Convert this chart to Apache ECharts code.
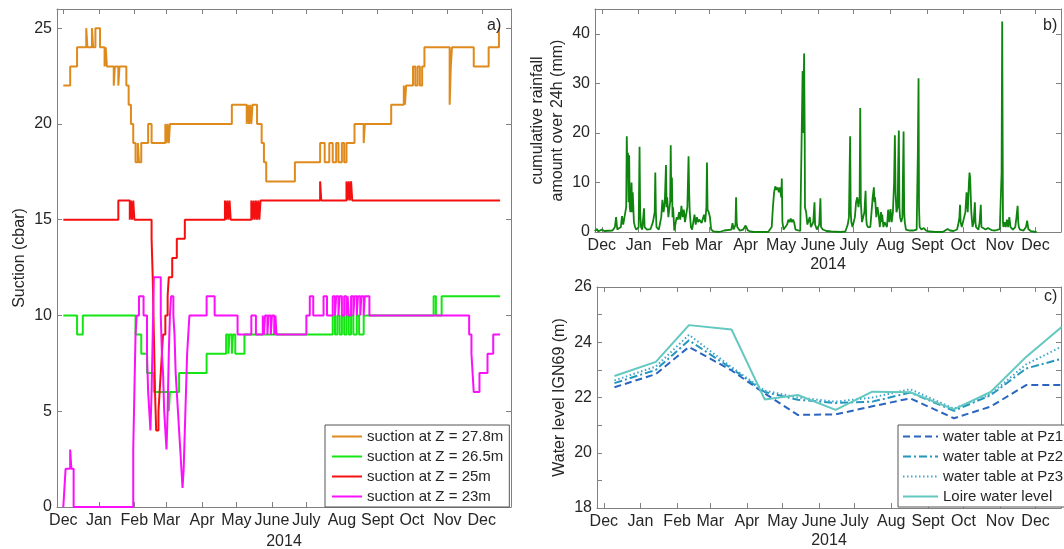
<!DOCTYPE html>
<html>
<head>
<meta charset="utf-8">
<title>Suction, rainfall and water levels - 2014</title>
<script src="https://cdn.jsdelivr.net/npm/echarts@6.0.0/dist/echarts.min.js"></script>
<style>
  html, body { margin: 0; padding: 0; background: #fff; }
  #chart { width: 1064px; height: 549px; }
</style>
</head>
<body>
<div id="chart"></div>
<script>
// month tick labels
var monthNames = ['Jan', 'Feb', 'Mar', 'Apr', 'May', 'June', 'July', 'Aug', 'Sept', 'Oct', 'Nov', 'Dec'];

// a) suction, stepwise readings [date the value starts, cbar]
var suction278 = [
  ['2013-12-01', 22], ['2013-12-07', 23], ['2013-12-13', 24], ['2013-12-21', 25], ['2013-12-22', 24],
  ['2013-12-26', 25], ['2013-12-27', 24], ['2013-12-29', 25], ['2014-01-02', 24], ['2014-01-06', 23],
  ['2014-01-07', 24], ['2014-01-08', 23], ['2014-01-14', 22], ['2014-01-15', 23], ['2014-01-18', 22],
  ['2014-01-19', 23], ['2014-01-25', 22], ['2014-01-27', 21], ['2014-01-29', 20], ['2014-01-31', 19],
  ['2014-02-02', 18], ['2014-02-04', 19], ['2014-02-05', 18], ['2014-02-07', 19], ['2014-02-13', 20],
  ['2014-02-16', 19], ['2014-02-28', 20], ['2014-03-01', 19], ['2014-03-02', 20], ['2014-03-03', 19],
  ['2014-03-04', 20], ['2014-04-27', 21], ['2014-05-10', 20], ['2014-05-11', 21], ['2014-05-12', 20],
  ['2014-05-13', 21], ['2014-05-14', 20], ['2014-05-15', 21], ['2014-05-19', 20], ['2014-05-23', 19],
  ['2014-05-25', 18], ['2014-05-27', 17], ['2014-06-21', 18], ['2014-07-13', 19], ['2014-07-17', 18],
  ['2014-07-21', 19], ['2014-07-24', 18], ['2014-07-27', 19], ['2014-07-29', 18], ['2014-08-01', 19],
  ['2014-08-03', 18], ['2014-08-05', 19], ['2014-08-12', 20], ['2014-08-20', 19], ['2014-08-21', 20],
  ['2014-09-13', 21], ['2014-09-24', 22], ['2014-09-25', 21], ['2014-09-26', 22], ['2014-10-02', 23],
  ['2014-10-04', 22], ['2014-10-06', 23], ['2014-10-08', 22], ['2014-10-10', 23], ['2014-10-12', 24],
  ['2014-11-03', 21], ['2014-11-04', 23], ['2014-11-05', 24], ['2014-11-24', 23], ['2014-12-07', 24],
  ['2014-12-16', 25], ['2014-12-17', 25]
];
var suction265 = [
  ['2013-12-01', 10], ['2013-12-13', 9], ['2013-12-18', 10], ['2014-02-02', 9], ['2014-02-07', 8],
  ['2014-02-12', 7], ['2014-02-18', 6], ['2014-03-03', 5], ['2014-03-04', 6], ['2014-03-12', 7],
  ['2014-04-05', 8], ['2014-04-22', 9], ['2014-04-24', 8], ['2014-04-25', 9], ['2014-04-27', 8],
  ['2014-04-28', 9], ['2014-04-30', 8], ['2014-05-08', 9], ['2014-07-24', 10], ['2014-07-26', 9],
  ['2014-07-28', 10], ['2014-07-30', 9], ['2014-08-01', 10], ['2014-08-03', 9], ['2014-08-05', 10],
  ['2014-08-07', 9], ['2014-08-09', 10], ['2014-08-11', 9], ['2014-08-14', 10], ['2014-08-16', 9],
  ['2014-08-20', 10], ['2014-10-20', 11], ['2014-10-22', 10], ['2014-10-27', 11], ['2014-12-17', 11]
];
var suction25 = [
  ['2013-12-01', 15], ['2014-01-18', 16], ['2014-01-28', 15], ['2014-01-29', 16], ['2014-01-30', 15],
  ['2014-01-31', 16], ['2014-02-01', 15], ['2014-02-16', 14], ['2014-02-17', 12], ['2014-02-18', 9],
  ['2014-02-19', 6], ['2014-02-20', 4], ['2014-02-22', 5], ['2014-02-23', 6], ['2014-02-24', 7],
  ['2014-02-25', 8], ['2014-02-26', 9], ['2014-02-28', 10], ['2014-03-02', 11], ['2014-03-03', 12],
  ['2014-03-06', 13], ['2014-03-10', 14], ['2014-03-17', 15], ['2014-04-21', 16], ['2014-04-22', 15],
  ['2014-04-23', 16], ['2014-04-24', 15], ['2014-04-25', 16], ['2014-04-26', 15], ['2014-05-14', 16],
  ['2014-05-15', 15], ['2014-05-16', 16], ['2014-05-17', 15], ['2014-05-18', 16], ['2014-05-19', 15],
  ['2014-05-20', 16], ['2014-05-21', 15], ['2014-05-22', 16], ['2014-07-13', 17], ['2014-07-14', 16],
  ['2014-08-05', 17], ['2014-08-06', 16], ['2014-08-07', 17], ['2014-08-08', 16], ['2014-08-09', 17],
  ['2014-08-10', 16], ['2014-12-17', 16]
];
var suction23 = [
  ['2013-12-01', 0], ['2013-12-02', 1], ['2013-12-03', 2], ['2013-12-07', 3], ['2013-12-08', 2],
  ['2013-12-10', 0], ['2014-01-31', 3], ['2014-02-01', 6], ['2014-02-02', 9], ['2014-02-03', 10],
  ['2014-02-05', 11], ['2014-02-09', 10], ['2014-02-12', 8], ['2014-02-13', 6], ['2014-02-14', 5],
  ['2014-02-15', 4], ['2014-02-16', 6], ['2014-02-17', 9], ['2014-02-18', 12], ['2014-02-24', 10],
  ['2014-02-25', 8], ['2014-02-26', 7], ['2014-02-27', 5], ['2014-02-28', 4], ['2014-03-01', 3],
  ['2014-03-02', 5], ['2014-03-03', 8], ['2014-03-04', 10], ['2014-03-05', 11], ['2014-03-07', 10],
  ['2014-03-08', 9], ['2014-03-09', 7], ['2014-03-10', 6], ['2014-03-11', 5], ['2014-03-12', 4],
  ['2014-03-13', 3], ['2014-03-14', 2], ['2014-03-15', 1], ['2014-03-16', 2], ['2014-03-17', 4],
  ['2014-03-18', 6], ['2014-03-19', 8], ['2014-03-20', 9], ['2014-03-21', 10], ['2014-04-05', 11],
  ['2014-04-12', 10], ['2014-05-02', 9], ['2014-05-14', 10], ['2014-05-18', 9], ['2014-05-24', 10],
  ['2014-05-25', 9], ['2014-05-26', 10], ['2014-05-28', 9], ['2014-05-29', 10], ['2014-05-31', 9],
  ['2014-06-01', 10], ['2014-06-03', 9], ['2014-06-04', 10], ['2014-06-05', 9], ['2014-07-01', 10],
  ['2014-07-04', 11], ['2014-07-07', 10], ['2014-07-16', 11], ['2014-07-19', 10], ['2014-07-24', 11],
  ['2014-07-26', 10], ['2014-07-27', 11], ['2014-07-29', 10], ['2014-07-30', 11], ['2014-08-01', 10],
  ['2014-08-03', 11], ['2014-08-05', 10], ['2014-08-06', 11], ['2014-08-07', 10], ['2014-08-09', 11],
  ['2014-08-11', 10], ['2014-08-12', 11], ['2014-08-14', 10], ['2014-08-15', 11], ['2014-08-17', 10],
  ['2014-08-18', 11], ['2014-08-20', 10], ['2014-08-21', 11], ['2014-08-25', 10], ['2014-11-20', 9],
  ['2014-11-22', 8], ['2014-11-23', 7], ['2014-11-24', 6], ['2014-11-29', 7], ['2014-12-06', 8],
  ['2014-12-11', 9], ['2014-12-17', 9]
];

// b) cumulative rainfall over 24h (mm)
var rainfall = [
  ['2013-11-25', 0.2], ['2013-11-27', 0.6], ['2013-11-28', 0.1], ['2013-12-01', 0.5], ['2013-12-03', 0.2],
  ['2013-12-10', 0.3], ['2013-12-12', 1], ['2013-12-13', 3], ['2013-12-14', 0.5], ['2013-12-17', 1],
  ['2013-12-18', 3.2], ['2013-12-19', 1.5], ['2013-12-21 12:00', 5], ['2013-12-22', 19.3], ['2013-12-22 12:00', 12],
  ['2013-12-23', 16], ['2013-12-23 12:00', 6], ['2013-12-24', 15.5], ['2013-12-24 12:00', 5], ['2013-12-25', 4],
  ['2013-12-26', 10], ['2013-12-26 12:00', 4], ['2013-12-27', 8], ['2013-12-28', 2], ['2013-12-29', 1],
  ['2013-12-30', 0.5], ['2014-01-01', 1], ['2014-01-01 18:00', 17.2], ['2014-01-02 06:00', 4], ['2014-01-03', 1],
  ['2014-01-04', 0.5], ['2014-01-05 12:00', 4.8], ['2014-01-06', 1], ['2014-01-08', 0.5], ['2014-01-11', 0.6],
  ['2014-01-13', 2], ['2014-01-14 12:00', 4], ['2014-01-15', 12], ['2014-01-15 12:00', 4], ['2014-01-16', 1],
  ['2014-01-18', 0.5], ['2014-01-20', 3], ['2014-01-21', 6.5], ['2014-01-22', 4], ['2014-01-23', 6],
  ['2014-01-24', 13.5], ['2014-01-24 12:00', 5], ['2014-01-25', 7], ['2014-01-26', 3], ['2014-01-27 12:00', 6],
  ['2014-01-28', 17.5], ['2014-01-28 12:00', 6], ['2014-01-29', 11], ['2014-01-29 12:00', 3], ['2014-01-30', 5],
  ['2014-01-31', 0.3], ['2014-02-02', 3], ['2014-02-03', 2.5], ['2014-02-04', 4], ['2014-02-05', 2.5],
  ['2014-02-06', 5.3], ['2014-02-07', 3], ['2014-02-08', 4.5], ['2014-02-09', 2], ['2014-02-11', 5],
  ['2014-02-12', 15.3], ['2014-02-12 12:00', 8], ['2014-02-13', 4], ['2014-02-14', 1], ['2014-02-15', 0.5],
  ['2014-02-16', 2], ['2014-02-17', 3.5], ['2014-02-18', 1.5], ['2014-02-19', 3], ['2014-02-20', 2],
  ['2014-02-21', 2.5], ['2014-02-23', 1.8], ['2014-02-25', 3.5], ['2014-02-26', 2], ['2014-02-27', 5],
  ['2014-02-27 12:00', 14], ['2014-02-28', 4.5], ['2014-03-01', 4], ['2014-03-02', 3], ['2014-03-03', 0.5],
  ['2014-03-05', 0.1], ['2014-03-10', 0], ['2014-03-14', 0.3], ['2014-03-20', 0.5], ['2014-03-21', 1.8],
  ['2014-03-22', 0.5], ['2014-03-23 12:00', 1.5], ['2014-03-24', 7], ['2014-03-24 12:00', 2], ['2014-03-25', 1],
  ['2014-03-27', 0.3], ['2014-03-30', 0.5], ['2014-04-01', 1.3], ['2014-04-02', 1], ['2014-04-03', 0.3],
  ['2014-04-05', 0.1], ['2014-04-08', 0], ['2014-04-20', 0], ['2014-04-23', 1], ['2014-04-24', 5],
  ['2014-04-25', 8], ['2014-04-26', 9.2], ['2014-04-27', 8.5], ['2014-04-28', 9], ['2014-04-29', 8],
  ['2014-04-30', 9], ['2014-05-01', 7], ['2014-05-01 12:00', 10.8], ['2014-05-02', 2], ['2014-05-03', 0.5],
  ['2014-05-06', 1.5], ['2014-05-07', 2.5], ['2014-05-08', 2], ['2014-05-09', 2.7], ['2014-05-10', 2],
  ['2014-05-11', 2.5], ['2014-05-12', 1.8], ['2014-05-13', 0.5], ['2014-05-14', 0.1], ['2014-05-17', 0.2],
  ['2014-05-18 12:00', 24], ['2014-05-19', 32.5], ['2014-05-19 12:00', 20], ['2014-05-20 06:00', 36], ['2014-05-20 18:00', 20],
  ['2014-05-21', 5], ['2014-05-22', 4], ['2014-05-23', 1.5], ['2014-05-25', 3], ['2014-05-26', 1],
  ['2014-05-28', 2], ['2014-05-29', 6], ['2014-05-29 12:00', 1.5], ['2014-05-31', 0.5], ['2014-06-02', 1.5],
  ['2014-06-03', 6.8], ['2014-06-03 12:00', 1], ['2014-06-05', 0.5], ['2014-06-08', 0.2], ['2014-06-12', 0.1],
  ['2014-06-20', 0], ['2014-06-24', 0.1], ['2014-06-26', 1.5], ['2014-06-27', 3], ['2014-06-28', 19.3],
  ['2014-06-28 12:00', 4], ['2014-06-29', 2], ['2014-06-30', 1], ['2014-07-02', 3], ['2014-07-03', 6],
  ['2014-07-04', 7], ['2014-07-05', 5], ['2014-07-06', 7], ['2014-07-06 12:00', 25], ['2014-07-07', 6],
  ['2014-07-08', 2], ['2014-07-09', 3], ['2014-07-10', 4], ['2014-07-11', 8.3], ['2014-07-11 12:00', 3],
  ['2014-07-12', 1.5], ['2014-07-13', 1], ['2014-07-15', 1], ['2014-07-16', 4], ['2014-07-17', 7],
  ['2014-07-18', 9], ['2014-07-18 12:00', 6], ['2014-07-19', 7], ['2014-07-20', 3], ['2014-07-21', 5],
  ['2014-07-22', 3.5], ['2014-07-23', 1], ['2014-07-24', 4], ['2014-07-24 12:00', 2], ['2014-07-25', 3.5],
  ['2014-07-26', 1], ['2014-07-27', 2], ['2014-07-29', 1], ['2014-07-30', 4.5], ['2014-07-31', 2],
  ['2014-08-01', 4.6], ['2014-08-02', 2], ['2014-08-03', 4], ['2014-08-04', 10], ['2014-08-04 16:00', 19.5],
  ['2014-08-05 06:00', 8], ['2014-08-06', 4], ['2014-08-07', 5], ['2014-08-07 12:00', 14], ['2014-08-08', 20.5],
  ['2014-08-08 12:00', 5], ['2014-08-09', 3], ['2014-08-10', 2], ['2014-08-11', 3], ['2014-08-11 12:00', 12],
  ['2014-08-12', 20.3], ['2014-08-12 12:00', 4], ['2014-08-13', 2], ['2014-08-14', 0.5], ['2014-08-17', 0.3],
  ['2014-08-20', 0.3], ['2014-08-23', 0.5], ['2014-08-24', 16], ['2014-08-24 14:00', 31], ['2014-08-25', 5],
  ['2014-08-25 12:00', 1], ['2014-08-27', 0.5], ['2014-08-29', 0.8], ['2014-08-31', 0.3], ['2014-09-03', 0.1],
  ['2014-09-08', 0], ['2014-09-14', 0], ['2014-09-18', 0.6], ['2014-09-19', 1], ['2014-09-20', 0.3],
  ['2014-09-23', 0.2], ['2014-09-26', 0.5], ['2014-09-27', 1.5], ['2014-09-28', 3], ['2014-09-28 12:00', 5.5],
  ['2014-09-29', 2], ['2014-09-30', 1], ['2014-10-02', 3], ['2014-10-03', 4], ['2014-10-04', 8],
  ['2014-10-05', 4], ['2014-10-06', 10], ['2014-10-06 12:00', 12], ['2014-10-07', 11], ['2014-10-08', 4],
  ['2014-10-09', 1], ['2014-10-10', 2], ['2014-10-11', 6], ['2014-10-11 12:00', 2], ['2014-10-12', 1],
  ['2014-10-14', 0.5], ['2014-10-15', 2], ['2014-10-16', 5.5], ['2014-10-16 12:00', 1], ['2014-10-17', 0.8],
  ['2014-10-20', 0.5], ['2014-10-22', 0.8], ['2014-10-25', 0.4], ['2014-10-28', 0.3], ['2014-11-01', 0.6],
  ['2014-11-02', 1], ['2014-11-02 12:00', 12], ['2014-11-03', 42.5], ['2014-11-03 08:00', 21], ['2014-11-03 16:00', 2],
  ['2014-11-04', 1], ['2014-11-05', 2], ['2014-11-06', 1], ['2014-11-07', 2.5], ['2014-11-08', 1],
  ['2014-11-09', 3], ['2014-11-10', 1], ['2014-11-12', 0.5], ['2014-11-14', 1], ['2014-11-15', 3],
  ['2014-11-16', 5.3], ['2014-11-16 12:00', 2], ['2014-11-17', 1], ['2014-11-18', 0.5], ['2014-11-21', 0.3],
  ['2014-11-23', 1], ['2014-11-24', 2.3], ['2014-11-25', 0.6], ['2014-11-27', 0.2], ['2014-11-29', 0.1],
  ['2014-12-01', 0], ['2014-12-02', 0]
];

// c) monthly water levels IGN69 (m)
var levelDates = ['2013-12-10', '2014-01-14', '2014-02-11', '2014-03-19', '2014-04-16', '2014-05-14', '2014-06-15',
                  '2014-07-16', '2014-08-17', '2014-09-23', '2014-10-24', '2014-11-23', '2014-12-23'];
var pz1   = [22.37, 22.85, 23.83, 22.98, 22.15, 21.37, 21.39, 21.68, 21.97, 21.25, 21.67, 22.45, 22.45];
var pz2   = [22.52, 23.00, 24.07, 23.05, 22.20, 21.92, 21.80, 21.85, 22.18, 21.52, 22.08, 23.05, 23.40];
var pz3   = [22.62, 23.12, 24.27, 23.10, 22.25, 22.00, 21.85, 22.00, 22.30, 21.60, 22.12, 23.20, 23.84];
var loire = [22.78, 23.29, 24.62, 24.46, 21.93, 22.09, 21.55, 22.21, 22.19, 21.57, 22.20, 23.47, 24.55];

var FONT = '"Liberation Sans", Arial, Helvetica, sans-serif';
var AXIS_GREY = '#808080';
var TEXT = '#262626';

function pairs(dates, vals) {
  return dates.map(function (d, i) { return [d, vals[i]]; });
}

function monthLabel(value) {
  var d = new Date(value);
  if (d.getDate() !== 1 || d.getHours() !== 0) return '';
  return monthNames[d.getMonth()];
}

function timeAxis(grid, min, max, bottom, gap) {
  return {
    type: 'time', gridIndex: grid, position: bottom ? 'bottom' : 'top',
    min: min, max: max, splitNumber: 13,
    axisLine: { show: true, onZero: false, lineStyle: { color: AXIS_GREY, width: 1 } },
    axisTick: { show: true, inside: true, length: 5, lineStyle: { color: AXIS_GREY } },
    axisLabel: bottom ? { show: true, formatter: monthLabel, color: TEXT, fontSize: 16, margin: 6, fontFamily: FONT, hideOverlap: false } : { show: false },
    splitLine: { show: false },
    name: bottom ? '2014' : '', nameLocation: 'middle', nameGap: gap || 23,
    nameTextStyle: { color: TEXT, fontSize: 16, fontFamily: FONT }
  };
}

function valueAxis(grid, min, max, step, labelStep, left, name) {
  return {
    type: 'value', gridIndex: grid, position: left ? 'left' : 'right',
    min: min, max: max, interval: step,
    axisLine: { show: true, onZero: false, lineStyle: { color: AXIS_GREY, width: 1 } },
    axisTick: { show: true, inside: true, length: 5, lineStyle: { color: AXIS_GREY } },
    axisLabel: left ? {
      show: true, color: TEXT, fontSize: 16, margin: 5, fontFamily: FONT,
      formatter: function (v) { return (v - min) % labelStep === 0 ? String(v) : ''; }
    } : { show: false },
    splitLine: { show: false },
    name: left ? name : '', nameLocation: 'middle', nameRotate: 90, nameGap: 27,
    nameTextStyle: { color: TEXT, fontSize: 16, fontFamily: FONT, lineHeight: 20 }
  };
}

function lineSeries(name, data, xi, yi, color, width, type, step) {
  return {
    name: name, type: 'line', xAxisIndex: xi, yAxisIndex: yi, data: data,
    step: step ? 'end' : false, symbol: 'none', showSymbol: false, clip: true,
    color: color, lineStyle: { color: color, width: width, type: type || 'solid' },
    animation: false
  };
}

var leftMin = new Date(2013, 10, 25, 12).getTime();
var leftMax = new Date(2014, 11, 26, 12).getTime();
var rightMin = new Date(2013, 10, 25, 6).getTime();
var rightMax = new Date(2014, 11, 22, 12).getTime();

var chart = echarts.init(document.getElementById('chart'), null, { renderer: 'canvas' });

chart.setOption({
  animation: false,
  backgroundColor: '#fff',
  textStyle: { fontFamily: FONT },
  grid: [
    { left: 57, top: 9, width: 454, height: 498, outerBoundsMode: 'none' },
    { left: 595, top: 9, width: 466, height: 223, outerBoundsMode: 'none' },
    { left: 597, top: 287, width: 464, height: 221, outerBoundsMode: 'none' }
  ],
  xAxis: [
    timeAxis(0, leftMin, leftMax, true, 23), timeAxis(0, leftMin, leftMax, false),
    timeAxis(1, rightMin, rightMax, true, 25), timeAxis(1, rightMin, rightMax, false),
    timeAxis(2, rightMin, rightMax, true, 25), timeAxis(2, rightMin, rightMax, false)
  ],
  yAxis: [
    valueAxis(0, 0, 26, 5, 5, true, 'Suction (cbar)'), valueAxis(0, 0, 26, 5, 5, false),
    valueAxis(1, 0, 45, 10, 10, true, 'cumulative rainfall\namount over 24h (mm)'), valueAxis(1, 0, 45, 10, 10, false),
    valueAxis(2, 18, 26, 1, 2, true, 'Water level IGN69 (m)'), valueAxis(2, 18, 26, 1, 2, false)
  ],
  legend: [
    {
      data: ['suction at Z = 27.8m', 'suction at Z = 26.5m', 'suction at Z = 25m', 'suction at Z = 23m'],
      orient: 'vertical', left: 325, top: 425,
      itemWidth: 30, itemHeight: 12, itemGap: 5, padding: [4, 6, 3, 6],
      borderColor: '#555', borderWidth: 1, backgroundColor: '#fff',
      itemStyle: { opacity: 0 },
      textStyle: { fontSize: 15, color: TEXT, fontFamily: FONT }
    },
    {
      data: ['water table at Pz1', 'water table at Pz2', 'water table at Pz3', 'Loire water level'],
      orient: 'vertical', left: 898, top: 425,
      itemWidth: 35, itemHeight: 12, itemGap: 5, padding: [4, 6, 3, 4],
      borderColor: '#555', borderWidth: 1, backgroundColor: '#fff',
      itemStyle: { opacity: 0 },
      textStyle: { fontSize: 15, color: TEXT, fontFamily: FONT }
    }
  ],
  graphic: [
    { type: 'text', left: 487, top: 18, z: 50, style: { text: 'a)', font: '16px ' + FONT, fill: TEXT } },
    { type: 'text', left: 1043, top: 18, z: 50, style: { text: 'b)', font: '16px ' + FONT, fill: TEXT } },
    { type: 'text', left: 1044, top: 289, z: 50, style: { text: 'c)', font: '16px ' + FONT, fill: TEXT } }
  ],
  series: [
    lineSeries('suction at Z = 27.8m', suction278, 0, 0, '#df8a1c', 2, 'solid', true),
    lineSeries('suction at Z = 26.5m', suction265, 0, 0, '#14e614', 2, 'solid', true),
    lineSeries('suction at Z = 25m', suction25, 0, 0, '#f41010', 2, 'solid', true),
    lineSeries('suction at Z = 23m', suction23, 0, 0, '#fa10fa', 2, 'solid', true),
    lineSeries('rainfall', rainfall, 2, 2, '#0f850f', 1.8, 'solid', false),
    lineSeries('water table at Pz1', pairs(levelDates, pz1), 4, 4, '#2a66bf', 2, [7, 4], false),
    lineSeries('water table at Pz2', pairs(levelDates, pz2), 4, 4, '#2496be', 2, [8, 3, 2, 3], false),
    lineSeries('water table at Pz3', pairs(levelDates, pz3), 4, 4, '#3fa6cf', 2, [1.5, 2.5], false),
    lineSeries('Loire water level', pairs(levelDates, loire), 4, 4, '#62c8c0', 2, 'solid', false)
  ]
});
</script>
</body>
</html>
